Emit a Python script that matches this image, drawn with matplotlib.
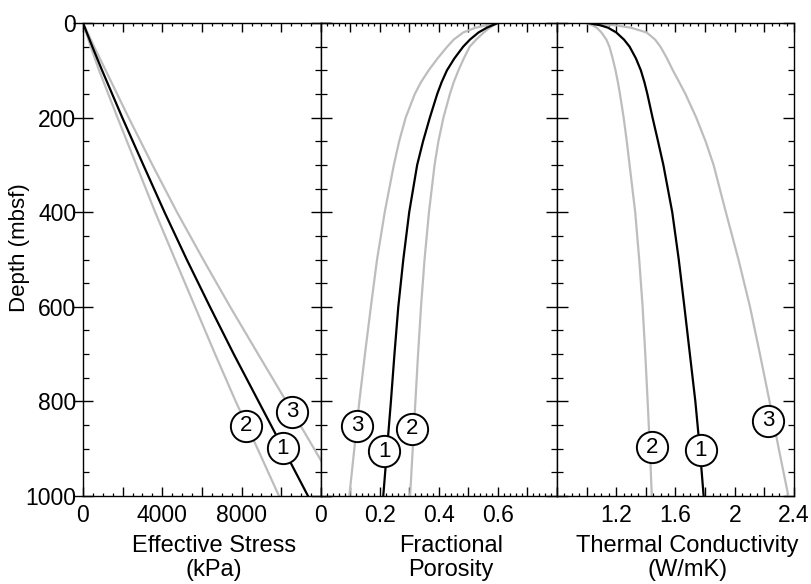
import matplotlib
matplotlib.use("Agg")
import matplotlib.pyplot as plt
from matplotlib.ticker import FixedLocator, MultipleLocator, FuncFormatter

plt.rcParams['font.family'] = ['Liberation Sans', 'DejaVu Sans']

# ---------------- data ----------------
# Panel 1: effective stress (kPa) vs depth (mbsf)
stress_depth = [0, 50, 100, 200, 300, 400, 500, 600, 700, 800, 900, 1000]
stress_1 = [0, 470, 960, 1980, 3040, 4110, 5230, 6400, 7600, 8850, 10100, 11345]
stress_2 = [0, 390, 810, 1740, 2690, 3640, 4640, 5650, 6660, 7700, 8800, 9882]
stress_3 = [0, 560, 1140, 2300, 3500, 4740, 6060, 7420, 8830, 10250, 11650, 13050]

# Panels 2 and 3 share this depth list
prop_depth = [0, 5, 10, 20, 35, 50, 75, 100, 125, 150, 200, 250, 300, 400, 500,
              600, 700, 800, 900, 1000]

# Panel 2: fractional porosity vs depth
poro_1 = [0.600, 0.580, 0.562, 0.534, 0.505, 0.482, 0.452, 0.427, 0.409, 0.394, 0.369,
          0.346, 0.326, 0.299, 0.279, 0.262, 0.249, 0.237, 0.224, 0.211]
poro_2 = [0.600, 0.585, 0.572, 0.552, 0.526, 0.504, 0.484, 0.466, 0.450, 0.437, 0.415,
          0.398, 0.385, 0.366, 0.351, 0.339, 0.329, 0.320, 0.311, 0.302]
poro_3 = [0.600, 0.558, 0.524, 0.482, 0.450, 0.428, 0.395, 0.365, 0.339, 0.318, 0.287,
          0.265, 0.247, 0.216, 0.190, 0.169, 0.149, 0.130, 0.113, 0.096]

# Panel 3: thermal conductivity (W/mK) vs depth
cond_1 = [1.010, 1.095, 1.145, 1.200, 1.252, 1.290, 1.333, 1.366, 1.390, 1.410, 1.445,
          1.482, 1.518, 1.578, 1.622, 1.660, 1.697, 1.734, 1.764, 1.790]
cond_2 = [1.000, 1.040, 1.068, 1.100, 1.133, 1.154, 1.176, 1.195, 1.211, 1.225, 1.250,
          1.271, 1.290, 1.328, 1.355, 1.378, 1.396, 1.412, 1.427, 1.440]
cond_3 = [1.000, 1.200, 1.300, 1.405, 1.462, 1.498, 1.543, 1.582, 1.625, 1.667, 1.740,
          1.803, 1.857, 1.940, 2.025, 2.103, 2.170, 2.235, 2.297, 2.362]

# Circled curve labels
curve_ids = ['1', '2', '3']
stress_lab_x = [10084, 8218, 10538]
stress_lab_d = [899, 852, 822]
poro_lab_x = [0.214, 0.308, 0.122]
poro_lab_d = [905, 858, 852]
cond_lab_x = [1.772, 1.441, 2.224]
cond_lab_d = [903, 897, 841]

# Tick labels
stress_ticks = [0, 2000, 4000, 6000, 8000, 10000, 12000]
stress_ticklabels = ['0', '', '4000', '', '8000', '', '']
poro_ticks = [0, 0.1, 0.2, 0.3, 0.4, 0.5, 0.6, 0.7, 0.8]
poro_ticklabels = ['0', '', '0.2', '', '0.4', '', '0.6', '', '']
cond_ticks = [0.8, 1.0, 1.2, 1.4, 1.6, 1.8, 2.0, 2.2, 2.4]
cond_ticklabels = ['', '', '1.2', '', '1.6', '', '2', '', '2.4']
depth_ticks = [0, 200, 400, 600, 800, 1000]

# ---------------- figure ----------------
W, H = 812, 584
fig = plt.figure(figsize=(W / 100, H / 100), dpi=100)

def ax_rect(x0, x1, y0=23, y1=496):
    return [x0 / W, 1 - y1 / H, (x1 - x0) / W, (y1 - y0) / H]

ax1 = fig.add_axes(ax_rect(83, 321))
ax2 = fig.add_axes(ax_rect(321, 557))
ax3 = fig.add_axes(ax_rect(557, 794))

GRAY = '#bdbdbd'
FS = 16.5

def style(ax, xlim, ticks, labels, minor, xlabel, first=False):
    ax.set_xlim(*xlim)
    ax.set_ylim(1000, 0)
    for s in ax.spines.values():
        s.set_linewidth(1.0)
    ax.xaxis.set_major_locator(FixedLocator(ticks))
    ax.xaxis.set_major_formatter(FuncFormatter(lambda v, p, t=ticks, l=labels:
                                               l[min(range(len(t)), key=lambda i: abs(t[i] - v))]))
    ax.xaxis.set_minor_locator(MultipleLocator(minor))
    ax.yaxis.set_major_locator(FixedLocator(depth_ticks))
    ax.yaxis.set_minor_locator(MultipleLocator(50))
    ax.tick_params(axis='x', which='major', direction='in', top=True, bottom=True,
                   length=6.7, width=1.0, labelsize=FS, pad=6)
    ax.tick_params(axis='x', which='minor', direction='in', top=True, bottom=True,
                   length=2.4, width=0.9)
    if first:
        ax.tick_params(axis='y', which='major', direction='inout', left=True, right=True,
                       length=14.4, width=1.0, labelsize=FS, pad=-2.4)
    else:
        ax.tick_params(axis='y', which='major', direction='in', left=True, right=True,
                       length=7.6, width=1.0, labelleft=False)
    ax.tick_params(axis='y', which='minor', direction='in', left=True, right=True,
                   length=4.5, width=0.9)
    ax.set_xlabel(xlabel, fontsize=17, linespacing=1.12)
    ax.xaxis.set_label_coords(0.55, -0.082)

style(ax1, (0, 12000), stress_ticks, stress_ticklabels, 500,
      'Effective Stress\n(kPa)', first=True)
style(ax2, (0, 0.8), poro_ticks, poro_ticklabels, 0.02, 'Fractional\nPorosity')
style(ax3, (0.8, 2.4), cond_ticks, cond_ticklabels, 0.05, 'Thermal Conductivity\n(W/mK)')

# curves
ax1.plot(stress_2, stress_depth, color=GRAY, lw=1.6, zorder=2)
ax1.plot(stress_3, stress_depth, color=GRAY, lw=1.6, zorder=2)
ax1.plot(stress_1, stress_depth, color='black', lw=1.6, zorder=3)

ax2.plot(poro_2, prop_depth, color=GRAY, lw=1.6, zorder=2)
ax2.plot(poro_3, prop_depth, color=GRAY, lw=1.6, zorder=2)
ax2.plot(poro_1, prop_depth, color='black', lw=1.6, zorder=3)

ax3.plot(cond_2, prop_depth, color=GRAY, lw=1.6, zorder=2)
ax3.plot(cond_3, prop_depth, color=GRAY, lw=1.6, zorder=2)
ax3.plot(cond_1, prop_depth, color='black', lw=1.6, zorder=3)

# circled labels
for ax, xs, ds in [(ax1, stress_lab_x, stress_lab_d),
                   (ax2, poro_lab_x, poro_lab_d),
                   (ax3, cond_lab_x, cond_lab_d)]:
    for lab, x, d in zip(curve_ids, xs, ds):
        ax.plot([x], [d], marker='o', ms=22.5, mfc='white', mec='black', mew=1.4,
                zorder=5, clip_on=False)
        ax.text(x, d, lab, ha='center', va='center', fontsize=16, zorder=6)

fig.text(20 / W, 1 - 248 / H, 'Depth (mbsf)', rotation=90, ha='center', va='center',
         fontsize=16)

fig.savefig('out.png', dpi=100)
